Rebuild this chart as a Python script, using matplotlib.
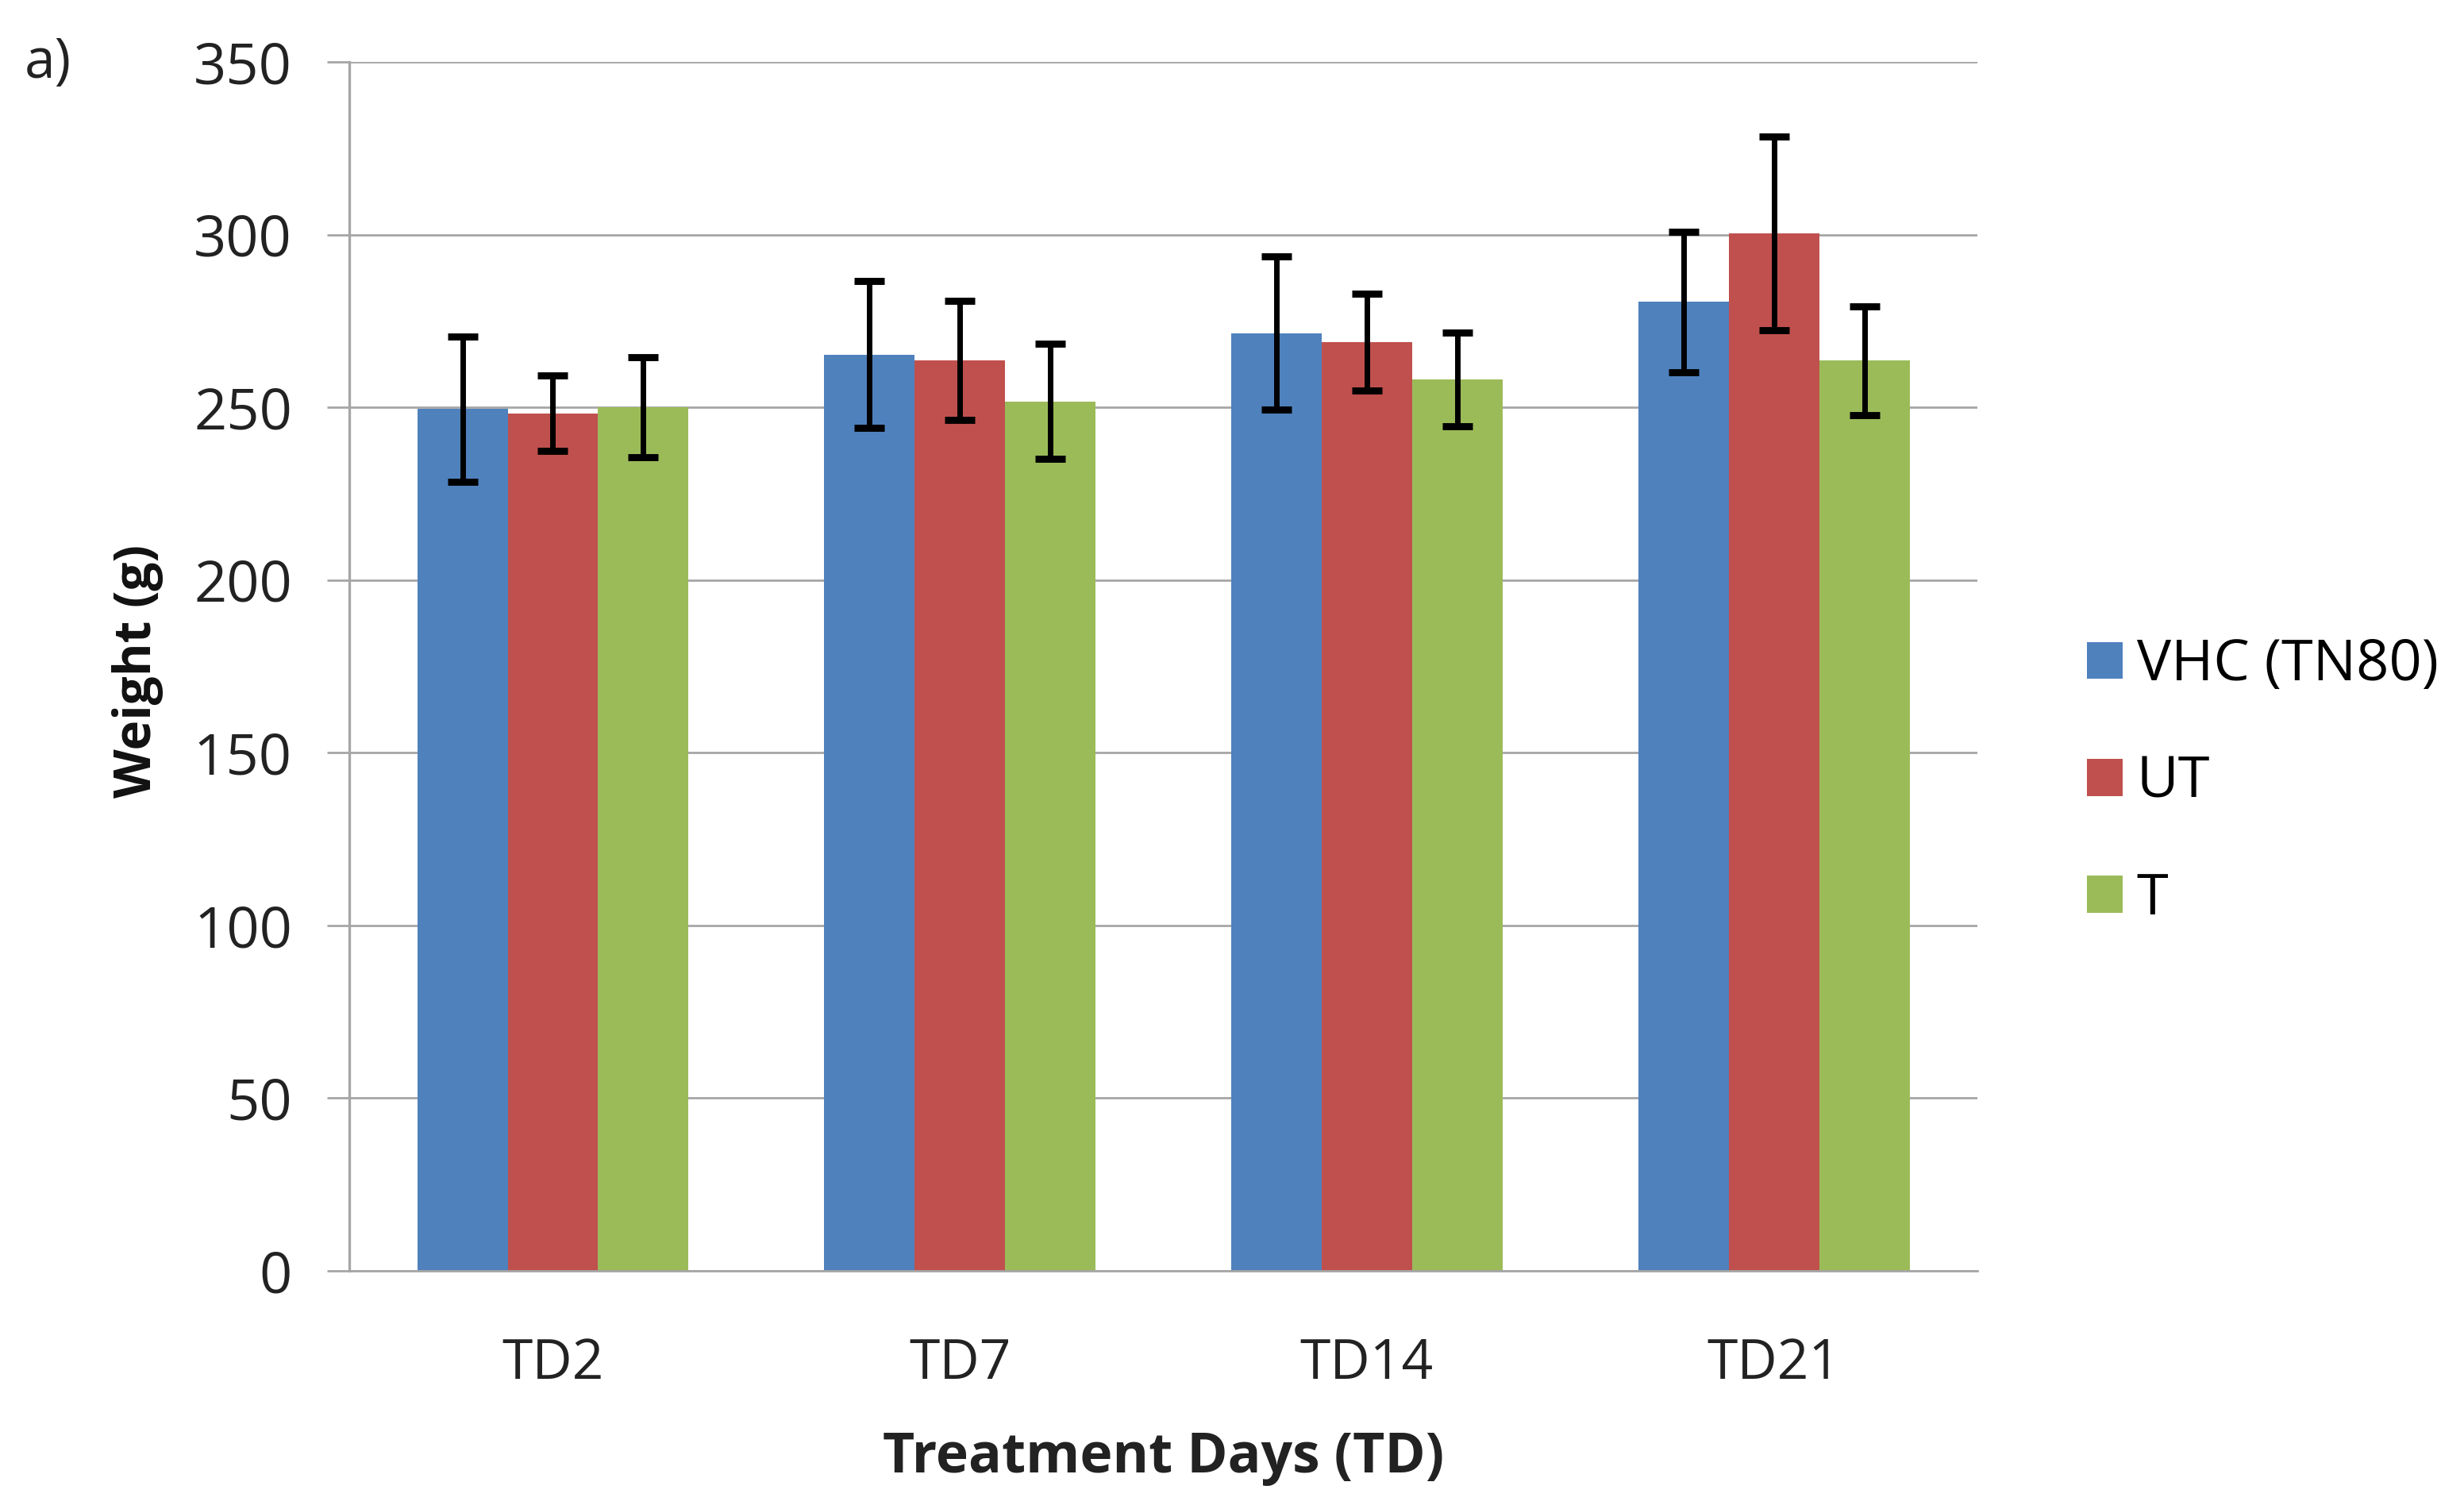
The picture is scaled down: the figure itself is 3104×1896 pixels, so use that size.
import numpy as np
import matplotlib
matplotlib.use('Agg')
import matplotlib.pyplot as plt

plt.rcParams['font.family'] = ['Open Sans', 'DejaVu Sans']

days = ['TD2', 'TD7', 'TD14', 'TD21']
groups = ['VHC (TN80)', 'UT', 'T']
colors = ['#4F81BD', '#C0504D', '#9BBB59']

vhc = [249.5, 265.3, 271.5, 280.5]
ut = [248.2, 263.5, 268.9, 300.4]
t = [250.0, 251.7, 258.1, 263.5]
vhc_err = [21.0, 21.2, 22.1, 20.3]
ut_err = [10.9, 17.2, 14.0, 28.0]
t_err = [14.4, 16.7, 13.5, 15.8]

means = [vhc, ut, t]
errs = [vhc_err, ut_err, t_err]

fig = plt.figure(figsize=(15.52, 9.48), dpi=200)
ax = fig.add_axes([0.1418, 0.1556, 0.6607, 0.8033])

x = np.arange(len(days))
w = 1 / 4.5
for k in range(3):
    ax.bar(x + (k - 1) * w, means[k], w, color=colors[k], label=groups[k], zorder=2)
for k in range(3):
    ax.errorbar(x + (k - 1) * w, means[k], yerr=errs[k], fmt='none', ecolor='black',
                elinewidth=2.5, capsize=7, capthick=3.2, zorder=3)

ax.set_xlim(-0.5, 3.5)
ax.set_ylim(0, 350)
ax.set_yticks(np.arange(0, 351, 50))
ax.set_xticks(x)
ax.set_xticklabels(days)
ax.yaxis.grid(True, color='#A6A6A6', linewidth=1.0, zorder=0)
ax.set_axisbelow(True)
for s in ['top', 'right']:
    ax.spines[s].set_visible(False)
ax.spines['left'].set_color('#A6A6A6')
ax.spines['bottom'].set_color('#A6A6A6')
ax.spines['left'].set_linewidth(1.2)
ax.spines['bottom'].set_linewidth(1.0)
ax.tick_params(axis='y', length=10, color='#A6A6A6', width=1.0, pad=16, labelsize=26, labelcolor='#222222')
ax.tick_params(axis='x', length=0, pad=30, labelsize=25, labelcolor='#222222')

ax.set_xlabel('Treatment Days (TD)', fontsize=25, fontweight='bold', color='#222222')
ax.xaxis.set_label_coords(0.5, -0.155)
ax.xaxis.label.set_va('center')
ax.set_ylabel('Weight (g)', fontsize=23, fontweight='bold', color='#111111')
ax.yaxis.set_label_coords(-0.13, 0.496)
ax.yaxis.label.set_va('center')

fig.text(0.01, 0.958, 'a)', fontsize=25, color='#222222', va='center')

ax.legend(loc='center left', bbox_to_anchor=(0.826, 0.48), bbox_transform=fig.transFigure,
          frameon=False, fontsize=26, handlelength=0.62, handleheight=0.62,
          handletextpad=0.25, labelspacing=1.05)

fig.savefig('out.png', dpi=200)
